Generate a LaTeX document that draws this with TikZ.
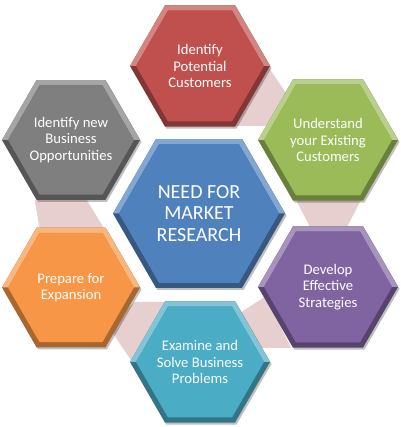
\documentclass[tikz,border=0pt]{standalone}
\usepackage{fontspec}
\setmainfont{Carlito}
\definecolor{hexred}{RGB}{192,80,77}
\definecolor{hexgreen}{RGB}{155,187,89}
\definecolor{hexpurple}{RGB}{128,100,162}
\definecolor{hexcyan}{RGB}{75,172,198}
\definecolor{hexorange}{RGB}{247,150,70}
\definecolor{hexblue}{RGB}{79,129,189}
\definecolor{hexgray}{RGB}{127,127,127}
\definecolor{bandpink}{RGB}{231,207,208}
\begin{document}
\begin{tikzpicture}[x=0.75pt, y=0.75pt]
\useasboundingbox (0,0) rectangle (400,427);
\fill[bandpink] (265,365) -- (292,325) -- (265,301) -- (230,301) -- cycle;
\fill[bandpink] (295,229) -- (362,229) -- (346,198) -- (311,198) -- cycle;
\fill[bandpink] (240,114) -- (266,131) -- (291,79) -- (262,79) -- cycle;
\fill[bandpink] (135,61) -- (108,101) -- (135,125) -- (170,125) -- cycle;
\fill[bandpink] (34.7,227) -- (86.8,227) -- (104.4,198) -- (39.7,198) -- cycle;
\foreach \n/\x/\y/\r/\col/\fs/\ls/\txt in {
    potential/200/361/70/hexred/11/12.4/{Identify\\Potential\\Customers},
    opportunities/71/287/69/hexgray/11/12.4/{Identify new\\Business\\Opportunities},
    existing/328/287/70/hexgreen/11/12.4/{Understand\\your Existing\\Customers},
    need/199/213.5/86/hexblue/15/16.2/{NEED FOR\\MARKET\\RESEARCH},
    expansion/71/139.5/69/hexorange/11/12.4/{Prepare for\\Expansion},
    strategies/328/140/70/hexpurple/11/12.4/{Develop\\Effective\\Strategies},
    problems/200/65/70/hexcyan/11/12.4/{Examine and\\Solve Business\\Problems}} {
  \begin{scope}[shift={(\x+1.5,\y-2)}]
    \fill[black, opacity=0.25] (0:\r) \foreach \t in {60,120,...,300} { -- (\t:\r) } -- cycle;
  \end{scope}
  \begin{scope}[shift={(\x,\y)}]
    \fill[\col!68!black] (0:\r) \foreach \t in {60,120,...,300} { -- (\t:\r) } -- cycle;
    \fill[\col!70!white] (180:\r) -- (120:\r) -- (60:\r) -- (0:\r) -- (0:\r-6) -- (60:\r-6) -- (120:\r-6) -- (180:\r-6) -- cycle;
    \fill[\col] (0:\r-6) \foreach \t in {60,120,...,300} { -- (\t:\r-6) } -- cycle;
  \end{scope}
  \node[text=white, align=center, font=\fontsize{\fs}{\ls}\selectfont] (\n) at (\x,\y) {\txt};
}
\end{tikzpicture}
\end{document}
